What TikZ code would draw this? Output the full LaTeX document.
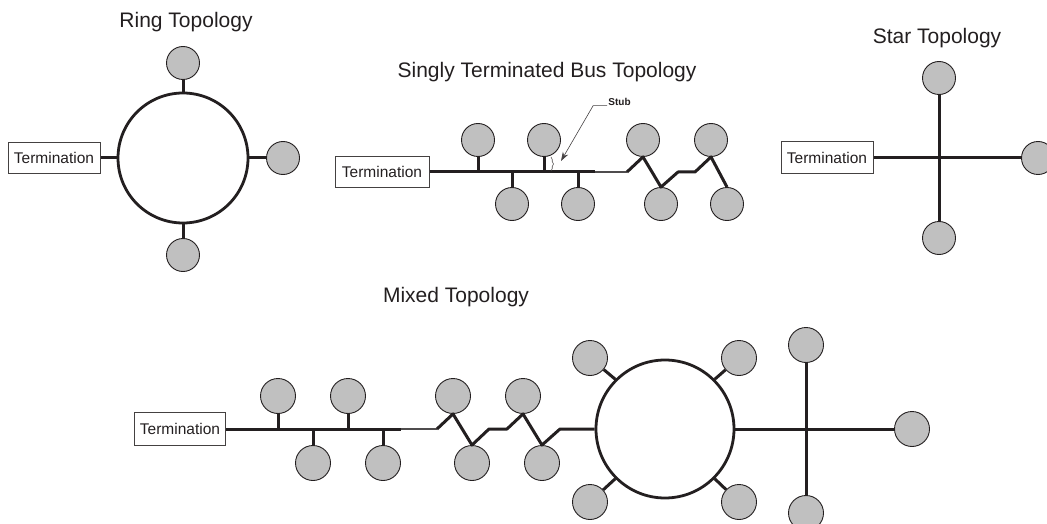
\documentclass[tikz,border=0pt]{standalone}
\usepackage{fontspec}
\setmainfont{Liberation Sans}
\usetikzlibrary{arrows.meta,decorations.pathreplacing}
\definecolor{ln}{RGB}{35,31,32}
\definecolor{nd}{RGB}{192,192,192}
\begin{document}
\begin{tikzpicture}[x=1pt,y=-1pt,
  dev/.style={circle,draw=ln,fill=nd,line width=0.9pt,minimum size=33pt,inner sep=0pt},
  devb/.style={dev,minimum size=35pt},
  ringc/.style={circle,draw=ln,line width=2.8pt,inner sep=0pt},
  term/.style={draw=ln!85,line width=1pt,minimum width=92pt,minimum height=31pt,inner sep=0pt,text=ln,font=\fontsize{15.5}{18}\selectfont},
  title/.style={text=ln,font=\fontsize{21}{25}\selectfont},
  wire/.style={draw=ln,line width=3pt},
  thinwire/.style={draw=ln!80,line width=2pt},
]
\useasboundingbox (0,0) rectangle (1047,524);

% ---------- Ring topology ----------
\node[title] (rt) at (186,22) {Ring Topology};
\node[ringc,minimum size=130pt] (ring) at (183,158) {};
\node[dev] (r1) at (183,63) {};
\node[dev] (r2) at (283,158) {};
\node[dev] (r3) at (183,255) {};
\node[term] (t1) at (54,158) {Termination};
\draw[wire] (t1.east) -- (ring.west);
\draw[wire] (r1.south) -- (ring.north);
\draw[wire] (ring.east) -- (r2.west);
\draw[wire] (ring.south) -- (r3.north);

% ---------- Singly terminated bus ----------
\node[title] (bt) at (547,72) {Singly Terminated Bus Topology};
\node[term,minimum width=94pt,minimum height=30pt] (t2) at (382,172) {Termination};
\node[dev] (b1) at (478,140) {};
\node[dev] (b2) at (544,140) {};
\node[dev] (b3) at (512,204) {};
\node[dev] (b4) at (578,204) {};
\node[dev] (b5) at (643,140) {};
\node[dev] (b6) at (661,204) {};
\node[dev] (b7) at (711,140) {};
\node[dev] (b8) at (727,204) {};
\coordinate (bA) at (595,172);
\coordinate (bB) at (627,172);
\coordinate (bC) at (678,172);
\coordinate (bD) at (695,172);
\draw[wire] (t2.east) -- (bA);
\draw[thinwire] (bA) -- (bB);
\draw[wire,line join=round] (bB) -- (b5.south) -- (b6.north) -- (bC) -- (bD) -- (b7.south) -- (b8.north);
\draw[wire] (b1.south) -- (b1 |- bA);
\draw[wire] (b2.south) -- (b2 |- bA);
\draw[wire] (b3.north) -- (b3 |- bA);
\draw[wire] (b4.north) -- (b4 |- bA);
% stub label
\node[text=ln,font=\bfseries\fontsize{10}{12}\selectfont,inner sep=1pt] (stub) at (619.5,102) {Stub};
\coordinate (stubtip) at (561,161);
\draw[ln!85,line width=0.6pt,-{Stealth[length=9pt,width=6pt]}] (stub.base west) -- ++(-14,0) -- (stubtip);
\draw[ln!80,line width=0.6pt,decorate,decoration={brace,amplitude=2.5pt}] (551,157) -- (551,171);

% ---------- Star topology ----------
\node[title] (st) at (937,38) {Star Topology};
\node[dev] (s1) at (939,78) {};
\node[dev] (s2) at (1038,158) {};
\node[dev] (s3) at (939,238) {};
\node[term,minimum height=32pt] (t3) at (827,158) {Termination};
\draw[wire] (t3.east) -- (s2.west);
\draw[wire] (s1.south) -- (s3.north);

% ---------- Mixed topology ----------
\node[title] (mt) at (456,297) {Mixed Topology};
\node[term,minimum width=91pt,minimum height=33pt] (t4) at (180,429) {Termination};
\node[devb] (m1) at (278,396) {};
\node[devb] (m2) at (348,396) {};
\node[devb] (m3) at (313,463) {};
\node[devb] (m4) at (383,463) {};
\node[devb] (m5) at (453,396) {};
\node[devb] (m6) at (472,463) {};
\node[devb] (m7) at (523,396) {};
\node[devb] (m8) at (542,463) {};
\coordinate (mA) at (401,429);
\coordinate (mB) at (437,429);
\coordinate (mC) at (489,429);
\coordinate (mD) at (507,429);
\coordinate (mE) at (560,429);
\node[ringc,minimum size=138pt] (mring) at (665,429) {};
\draw[wire] (t4.east) -- (mA);
\draw[thinwire] (mA) -- (mB);
\draw[wire,line join=round] (mB) -- (m5.south) -- (m6.north) -- (mC) -- (mD) -- (m7.south) -- (m8.north) -- (mE) -- (mring.west);
\draw[wire] (m1.south) -- (m1 |- mA);
\draw[wire] (m2.south) -- (m2 |- mA);
\draw[wire] (m3.north) -- (m3 |- mA);
\draw[wire] (m4.north) -- (m4 |- mA);
\node[devb] (q1) at (590,358) {};
\node[devb] (q2) at (739,358) {};
\node[devb] (q3) at (590,502) {};
\node[devb] (q4) at (739,502) {};
\draw[wire] (mring.135) -- (q1);
\draw[wire] (mring.45) -- (q2);
\draw[wire] (mring.225) -- (q3);
\draw[wire] (mring.315) -- (q4);
\node[devb] (x1) at (806,345) {};
\node[devb] (x2) at (912,429) {};
\node[devb] (x3) at (806,513) {};
\draw[wire] (mring.east) -- (x2);
\draw[wire] (x1) -- (x3);
\end{tikzpicture}
\end{document}
